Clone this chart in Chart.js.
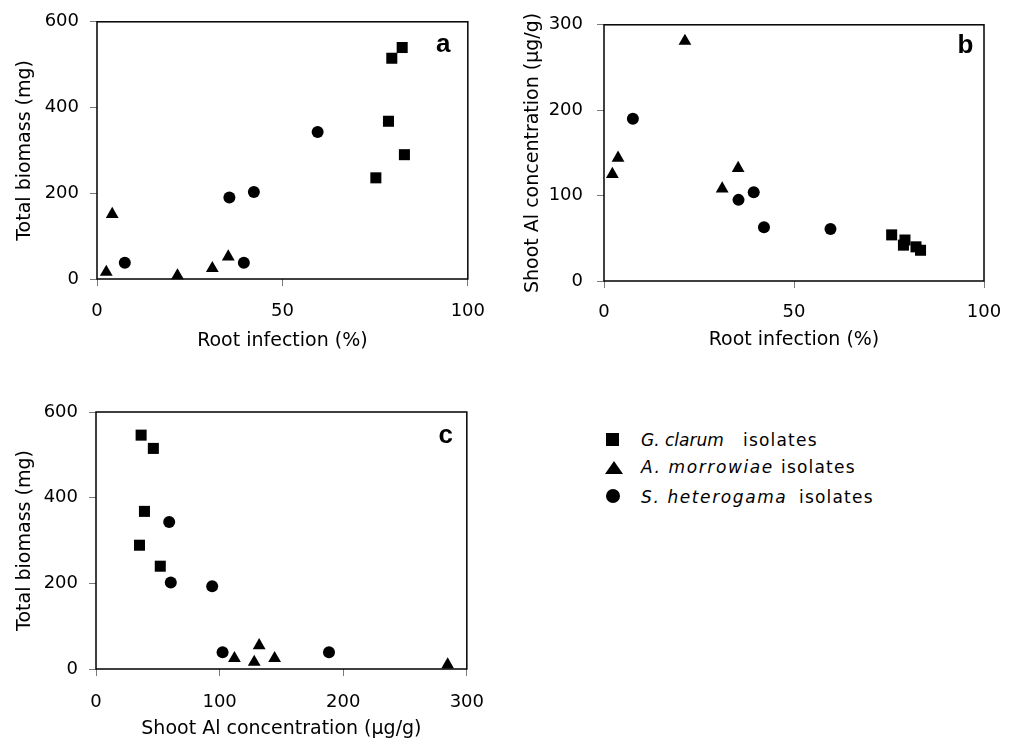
<!DOCTYPE html>
<html><head><meta charset="utf-8">
<script src="https://cdn.jsdelivr.net/npm/chart.js@4.4.0/dist/chart.umd.min.js"></script>
<style>
html,body{margin:0;padding:0;background:#fff;width:1016px;height:744px;overflow:hidden;position:relative;font-family:"DejaVu Sans",sans-serif;}
.box{position:absolute;}
.box canvas{display:block;}
.leg{position:absolute;font-size:17px;line-height:20px;letter-spacing:1.2px;color:#000;white-space:nowrap;}
.leg i{font-style:italic;}
.mk{position:absolute;background:#000;}
.tri{position:absolute;width:0;height:0;border-left:9px solid transparent;border-right:9px solid transparent;border-bottom:13px solid #000;}
</style></head><body>
<div class="box"><canvas id="chartA"></canvas></div>
<div class="box"><canvas id="chartB"></canvas></div>
<div class="box"><canvas id="chartC"></canvas></div>

<div class="mk" style="left:606px;top:433px;width:13px;height:13px;"></div>
<div class="tri" style="left:605px;top:461px;"></div>
<div class="mk" style="left:606px;top:489px;width:14px;height:14px;border-radius:50%;"></div>
<div class="leg" style="left:641px;top:430px;letter-spacing:0;"><i>G. clarum</i></div>
<div class="leg" style="left:743px;top:430px;">isolates</div>
<div class="leg" style="left:641px;top:457px;letter-spacing:1.6px;"><i>A. morrowiae</i></div>
<div class="leg" style="left:781px;top:457px;">isolates</div>
<div class="leg" style="left:641px;top:487px;letter-spacing:1.6px;"><i>S. heterogama</i></div>
<div class="leg" style="left:799px;top:487px;">isolates</div>

<script>
// ---------- data ----------
const seriesNames = ['G. clarum isolates', 'A. morrowiae isolates', 'S. heterogama isolates'];

// Panel a: root infection (%) vs total biomass (mg)
const aClarumX = [82.3, 79.5, 78.6, 82.9, 75.2];
const aClarumY = [540, 515, 368, 290, 236];
const aMorrowX = [4.1, 2.5, 21.7, 31.1, 35.4];
const aMorrowY = [151, 16, 8, 25, 52];
const aHeteroX = [7.5, 35.7, 42.3, 39.6, 59.5];
const aHeteroY = [38, 190, 203, 38, 343];

// Panel b: root infection (%) vs shoot Al (µg/g)
const bClarumX = [75.7, 79.2, 78.8, 82.1, 83.3];
const bClarumY = [54, 48, 42, 40, 36];
const bMorrowX = [21.3, 2.2, 3.7, 35.3, 31.1];
const bMorrowY = [281, 125, 144, 132, 108];
const bHeteroX = [7.6, 35.4, 39.4, 42.1, 59.6];
const bHeteroY = [190, 95, 104, 63, 61];

// Panel c: shoot Al (µg/g) vs total biomass (mg)
const cClarumX = [36.5, 46.4, 39.2, 35.2, 52];
const cClarumY = [546, 515, 368, 289, 240];
const cMorrowX = [112, 128, 132, 144.5, 284.5];
const cMorrowY = [25, 16, 55, 25, 10];
const cHeteroX = [59.2, 60.5, 94, 102.4, 188.5];
const cHeteroY = [343, 202, 193, 39, 39];

// tick labels
const ticksInfection = [0, 50, 100];
const ticksBiomass = [0, 200, 400, 600];
const ticksAl = [0, 100, 200, 300];

// titles
const titleInfection = 'Root infection (%)';
const titleBiomass = 'Total biomass (mg)';
const titleAl = 'Shoot Al concentration (µg/g)';

// ---------- drawing ----------
const FONT = '"DejaVu Sans", sans-serif';
const TITLE_SIZE = 19, TICK_SIZE = 18;

const framePlugin = {
  id: 'frame',
  beforeDatasetsDraw(chart, args, opts) {
    const {ctx, chartArea: a} = chart;
    ctx.save();
    ctx.strokeStyle = '#000';
    ctx.lineWidth = 1.5;
    ctx.strokeRect(a.left, a.top, a.right - a.left, a.bottom - a.top);
    ctx.fillStyle = '#000';
    ctx.font = 'bold 26px "Liberation Sans", Arial, sans-serif';
    ctx.textAlign = 'center';
    ctx.textBaseline = 'alphabetic';
    ctx.fillText(opts.letter, a.right + opts.dx, a.top + opts.dy);
    ctx.restore();
  }
};
Chart.register(framePlugin);

function pts(xs, ys) { return xs.map((v, i) => ({x: v, y: ys[i]})); }

function makeChart(id, box, area, conf) {
  const cv = document.getElementById(id);
  const div = cv.parentElement;
  div.style.left = box.left + 'px';
  div.style.top = box.top + 'px';
  div.style.width = box.width + 'px';
  div.style.height = box.height + 'px';
  cv.width = box.width; cv.height = box.height;
  const half = TITLE_SIZE * 1.2 / 2;
  const styles = [['rect', 7.8], ['triangle', 7.4], ['circle', 6]];
  const datasets = conf.series.map((s, k) => ({
    label: seriesNames[k],
    data: pts(s[0], s[1]),
    pointStyle: styles[k][0],
    pointRadius: styles[k][1],
    pointHoverRadius: styles[k][1],
    backgroundColor: '#000',
    borderColor: '#000',
    pointBorderWidth: 0,
    showLine: false,
    clip: false
  }));
  const grid = {display: true, drawOnChartArea: false, drawTicks: true, tickLength: 7, color: '#7a7a7a', lineWidth: 1};
  new Chart(cv, {
    type: 'scatter',
    data: {datasets},
    options: {
      responsive: false, animation: false, events: [],
      layout: {padding: {left: 0, bottom: 0, top: area.top - box.top, right: box.left + box.width - area.right}},
      plugins: {legend: {display: false}, tooltip: {enabled: false},
        frame: {letter: conf.letter, dx: conf.letterDx, dy: conf.letterDy}},
      scales: {
        x: {
          type: 'linear', min: conf.xTicks[0], max: conf.xTicks[conf.xTicks.length - 1],
          afterBuildTicks: s => { s.ticks = conf.xTicks.map(v => ({value: v})); },
          afterFit: s => { s.height = box.top + box.height - area.bottom; },
          grid, border: {display: false},
          ticks: {font: {family: FONT, size: TICK_SIZE}, color: '#000', padding: conf.xTickPad, maxRotation: 0, autoSkip: false},
          title: {display: true, text: conf.xTitle, color: '#000', font: {family: FONT, size: TITLE_SIZE},
            padding: {top: 0, bottom: box.top + box.height - conf.xTitleY - half}}
        },
        y: {
          type: 'linear', min: conf.yTicks[0], max: conf.yTicks[conf.yTicks.length - 1],
          afterBuildTicks: s => { s.ticks = conf.yTicks.map(v => ({value: v})); },
          afterFit: s => { s.width = area.left - box.left; },
          grid, border: {display: false},
          ticks: {font: {family: FONT, size: TICK_SIZE}, color: '#000', padding: conf.yTickPad, autoSkip: false},
          title: {display: true, text: conf.yTitle, color: '#000', font: {family: FONT, size: TITLE_SIZE},
            padding: {top: conf.yTitleX - box.left - half, bottom: 0}}
        }
      }
    }
  });
}

makeChart('chartA', {left: 0, top: 0, width: 500, height: 362}, {left: 97, top: 18, right: 473, bottom: 279}, {
  series: [[aClarumX, aClarumY], [aMorrowX, aMorrowY], [aHeteroX, aHeteroY]],
  xTicks: ticksInfection, yTicks: ticksBiomass, xTitle: titleInfection, yTitle: titleBiomass,
  xTitleY: 341, yTitleX: 25, xTickPad: 15, yTickPad: 11,
  letter: 'a', letterDx: -24.7, letterDy: 30.3
});
makeChart('chartB', {left: 505, top: 0, width: 511, height: 362}, {left: 604, top: 21, right: 984, bottom: 281}, {
  series: [[bClarumX, bClarumY], [bMorrowX, bMorrowY], [bHeteroX, bHeteroY]],
  xTicks: ticksInfection, yTicks: ticksAl, xTitle: titleInfection, yTitle: titleAl,
  xTitleY: 340, yTitleX: 533, xTickPad: 14, yTickPad: 14,
  letter: 'b', letterDx: -18.5, letterDy: 28.3
});
makeChart('chartC', {left: 0, top: 385, width: 500, height: 359}, {left: 96, top: 412, right: 471, bottom: 669}, {
  series: [[cClarumX, cClarumY], [cMorrowX, cMorrowY], [cHeteroX, cHeteroY]],
  xTicks: ticksAl, yTicks: ticksBiomass, xTitle: titleAl, yTitle: titleBiomass,
  xTitleY: 729, yTitleX: 25, xTickPad: 16, yTickPad: 11,
  letter: 'c', letterDx: -21, letterDy: 31.3
});
</script>
</body></html>
